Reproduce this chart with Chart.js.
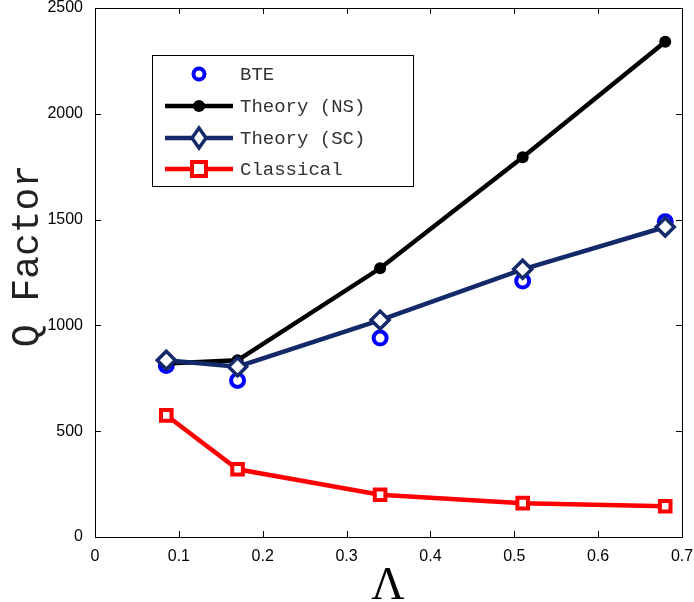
<!DOCTYPE html>
<html>
<head>
<meta charset="utf-8">
<script src="https://cdn.jsdelivr.net/npm/chart.js@4"></script>
<style>
  html, body { margin: 0; padding: 0; background: #fff; }
  #wrap { width: 694px; height: 602px; }
</style>
</head>
<body>
<div id="wrap"><canvas id="qFactor"></canvas></div>
<script>
const lambdaVals = [0.085, 0.17, 0.34, 0.51, 0.68];
const bte = [810, 740, 940, 1210, 1490];
const theoryNS = [820, 835, 1270, 1795, 2340];
const theorySC = [835, 805, 1025, 1265, 1465];
const classical = [575, 320, 200, 160, 145];
const xTicks = [0, 0.1, 0.2, 0.3, 0.4, 0.5, 0.6, 0.7];
const yTicks = [0, 500, 1000, 1500, 2000, 2500];

const NAVY = '#13296a';
const pts = arr => arr.map((v, i) => ({ x: lambdaVals[i], y: v }));

const legendItems = [
    { label: 'BTE', line: false, color: '#0000ff', shape: 'circle' },
    { label: 'Theory (NS)', line: true, color: '#000000', shape: 'dot' },
    { label: 'Theory (SC)', line: true, color: NAVY, shape: 'diamond' },
    { label: 'Classical', line: true, color: '#ff0000', shape: 'square' }
];

function drawMarker(c, shape, color, x, y) {
    c.save();
    c.strokeStyle = color;
    c.fillStyle = color;
    if (shape === 'circle') {
        c.lineWidth = 4;
        c.beginPath(); c.arc(x, y, 5.5, 0, Math.PI * 2); c.stroke();
    } else if (shape === 'dot') {
        c.beginPath(); c.arc(x, y, 6, 0, Math.PI * 2); c.fill();
    } else if (shape === 'diamond') {
        c.lineWidth = 3.5;
        c.beginPath();
        c.moveTo(x, y - 10); c.lineTo(x + 7, y); c.lineTo(x, y + 10); c.lineTo(x - 7, y); c.closePath();
        c.fillStyle = '#fff'; c.fill(); c.stroke();
    } else if (shape === 'square') {
        c.lineWidth = 4;
        c.fillStyle = '#fff';
        c.fillRect(x - 7, y - 7, 14, 14);
        c.strokeRect(x - 7, y - 7, 14, 14);
    }
    c.restore();
}

const frame = {
    id: 'frame',
    afterDraw(chart) {
        const c = chart.ctx;
        const a = chart.chartArea;
        const xs = chart.scales.x, ys = chart.scales.y;
        c.save();
        c.strokeStyle = '#000';
        c.lineWidth = 1;
        c.strokeRect(a.left + 0.5, a.top + 0.5, a.right - a.left, a.bottom - a.top);
        c.beginPath();
        xTicks.forEach(t => {
            const px = Math.round(xs.getPixelForValue(t)) + 0.5;
            c.moveTo(px, a.bottom); c.lineTo(px, a.bottom - 6);
            c.moveTo(px, a.top); c.lineTo(px, a.top + 6);
        });
        yTicks.forEach(t => {
            const py = Math.round(ys.getPixelForValue(t)) + 0.5;
            c.moveTo(a.left, py); c.lineTo(a.left + 6, py);
            c.moveTo(a.right, py); c.lineTo(a.right - 6, py);
        });
        c.stroke();

        // axis titles
        c.fillStyle = '#222';
        c.font = '38px "Liberation Mono", monospace';
        c.textAlign = 'center';
        c.textBaseline = 'middle';
        c.save();
        c.translate(28, 256);
        c.rotate(-Math.PI / 2);
        c.fillText('Q Factor', 0, 0);
        c.restore();
        c.fillStyle = '#000';
        c.font = '46px "Liberation Serif", serif';
        c.textBaseline = 'alphabetic';
        c.fillText('\u039B', 388, 599);

        // legend box
        const bx = 152, by = 55, bw = 261, bh = 131;
        c.fillStyle = '#fff';
        c.fillRect(bx, by, bw, bh);
        c.lineWidth = 1;
        c.strokeRect(bx + 0.5, by + 0.5, bw, bh);
        const rowsY = [74, 106, 138, 169];
        c.font = '19px "Liberation Mono", monospace';
        c.textAlign = 'left';
        c.textBaseline = 'middle';
        legendItems.forEach((it, i) => {
            const y = rowsY[i];
            if (it.line) {
                c.strokeStyle = it.color;
                c.lineWidth = 4.5;
                c.beginPath(); c.moveTo(165, y); c.lineTo(233, y); c.stroke();
            }
            drawMarker(c, it.shape, it.color, 199, y);
            c.fillStyle = '#333';
            c.fillText(it.label, 240, y + 1);
        });
        c.restore();
    }
};

const ctx = document.getElementById('qFactor');
const qChart = new Chart(ctx, {
    type: 'scatter',
    data: {
        datasets: [
            {
                label: 'BTE',
                data: pts(bte),
                showLine: false,
                pointStyle: 'circle',
                pointRadius: 6.5,
                pointBorderWidth: 4,
                borderColor: '#0000ff',
                backgroundColor: 'rgba(0,0,0,0)',
                order: 4
            },
            {
                label: 'Theory (NS)',
                data: pts(theoryNS),
                showLine: true,
                borderWidth: 4.5,
                borderColor: '#000',
                backgroundColor: '#000',
                pointStyle: 'circle',
                pointRadius: 6,
                pointBorderWidth: 0,
                order: 3
            },
            {
                label: 'Theory (SC)',
                data: pts(theorySC),
                showLine: true,
                borderWidth: 4.5,
                borderColor: NAVY,
                backgroundColor: '#fff',
                pointStyle: 'rectRot',
                pointRadius: 9,
                pointBorderWidth: 3.5,
                order: 2
            },
            {
                label: 'Classical',
                data: pts(classical),
                showLine: true,
                borderWidth: 4.5,
                borderColor: '#ff0000',
                backgroundColor: '#fff',
                pointStyle: 'rect',
                pointRadius: 7.5,
                pointBorderWidth: 4,
                order: 1
            }
        ]
    },
    options: {
        responsive: true,
        maintainAspectRatio: false,
        animation: false,
        layout: { autoPadding: false, padding: { top: 8, right: 12, left: 0, bottom: 0 } },
        plugins: { legend: { display: false }, tooltip: { enabled: false } },
        scales: {
            x: {
                type: 'linear',
                min: 0, max: 0.7,
                afterBuildTicks: s => { s.ticks = xTicks.map(v => ({ value: v })); },
                afterFit: s => { s.height = 65; s.paddingLeft = 0; s.paddingRight = 0; },
                grid: { display: false },
                border: { display: false },
                ticks: {
                    color: '#000',
                    padding: 2,
                    maxRotation: 0,
                    font: { family: '"Liberation Sans", Arial', size: 16 },
                    callback: v => String(+v.toFixed(1))
                }
            },
            y: {
                min: 0, max: 2500,
                afterBuildTicks: s => { s.ticks = yTicks.map(v => ({ value: v })); },
                afterFit: s => { s.width = 95; s.paddingTop = 0; s.paddingBottom = 0; },
                grid: { display: false },
                border: { display: false },
                ticks: {
                    color: '#000',
                    padding: 4,
                    font: { family: '"Liberation Sans", Arial', size: 16 },
                    callback: v => String(v)
                }
            }
        }
    },
    plugins: [frame]
});
</script>
</body>
</html>
